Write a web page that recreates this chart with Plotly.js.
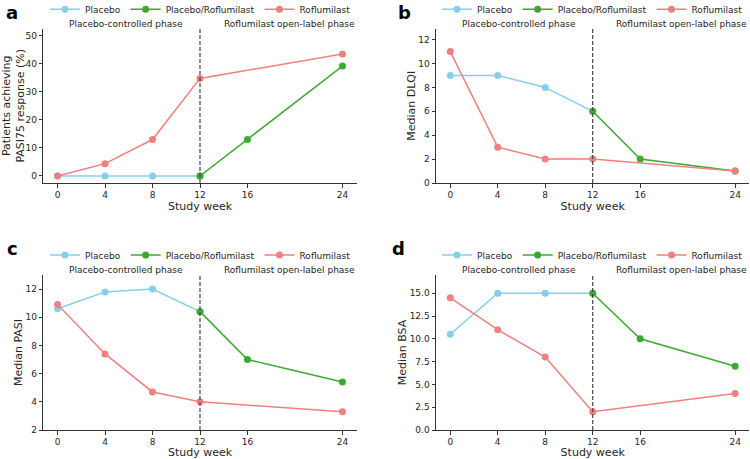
<!DOCTYPE html>
<html>
<head>
<meta charset="utf-8">
<script src="https://cdn.plot.ly/plotly-3.0.1.min.js"></script>
<style>html,body{margin:0;padding:0;background:#fff;}#chart{width:750px;height:459px;}</style>
</head>
<body>
<div id="chart"></div>
<script>
// ---- data ----
const weeksPlacebo = [0, 4, 8, 12];
const weeksSwitch = [12, 16, 24];
const weeksRoflumilast = [0, 4, 8, 12, 24];
const xTickVals = [0, 4, 8, 12, 16, 24];
const seriesNames = ['Placebo', 'Placebo/Roflumilast', 'Roflumilast'];

// a: PASI75 response (%)
const pasi75Placebo = [0, 0, 0, 0];
const pasi75Switch = [0, 13.0, 39.2];
const pasi75Roflumilast = [0, 4.4, 13.0, 34.8, 43.5];
// b: Median DLQI
const dlqiPlacebo = [9, 9, 8, 6];
const dlqiSwitch = [6, 2, 1];
const dlqiRoflumilast = [11, 3, 2, 2, 1];
// c: Median PASI
const pasiPlacebo = [10.6, 11.8, 12.0, 10.4];
const pasiSwitch = [10.4, 7.0, 5.4];
const pasiRoflumilast = [10.9, 7.4, 4.7, 4.0, 3.3];
// d: Median BSA
const bsaPlacebo = [10.5, 15, 15, 15];
const bsaSwitch = [15, 10, 7];
const bsaRoflumilast = [14.5, 11, 8, 2, 4];

const panelLetters = ['a', 'b', 'c', 'd'];
const yTitles = ['Patients achieving<br>PASI75 response (%)', 'Median DLQI', 'Median PASI', 'Median BSA'];
const yTickSets = [[0, 10, 20, 30, 40, 50], [0, 2, 4, 6, 8, 10, 12], [2, 4, 6, 8, 10, 12], [0, 2.5, 5, 7.5, 10, 12.5, 15]];
const phaseLabels = ['Placebo-controlled phase', 'Roflumilast open-label phase'];
const xTitle = 'Study week';
const switchWeek = 12;

// ---- styling ----
const W = 750, H = 459;
const colors = ['#87ceeb', '#3caa32', '#f08080'];
const textColor = '#262626';
const axisColor = '#333333';
const fontFamily = 'DejaVu Sans, Arial, sans-serif';

const panelData = [
  [pasi75Placebo, pasi75Switch, pasi75Roflumilast],
  [dlqiPlacebo, dlqiSwitch, dlqiRoflumilast],
  [pasiPlacebo, pasiSwitch, pasiRoflumilast],
  [bsaPlacebo, bsaSwitch, bsaRoflumilast]
];
const yRanges = [[-2.5, 52.6], [0, 12.93], [2, 13], [0, 17]];
const xDomains = [[43.3 / W, 356.7 / W], [436 / W, 749.4 / W], [43.3 / W, 356.7 / W], [436 / W, 749.4 / W]];
const yDomains = [[1 - 183 / H, 1 - 28.5 / H], [1 - 183 / H, 1 - 28.5 / H], [1 - 430 / H, 1 - 275 / H], [1 - 430 / H, 1 - 275 / H]];
const legendX = [45 / W, 437 / W, 45 / W, 437 / W];
const legendY = [1 - 9.3 / H, 1 - 9.3 / H, 1 - 255 / H, 1 - 255 / H];
const letterPos = [[4, 12], [396, 12], [5, 248], [390, 248]];
const yStandoff = [4, 0, 0, 0];

const traces = [];
const layout = {
  width: W, height: H,
  margin: {l: 0, r: 0, t: 0, b: 0, autoexpand: false},
  paper_bgcolor: '#fff', plot_bgcolor: '#fff',
  font: {family: fontFamily, size: 9, color: textColor},
  showlegend: true,
  annotations: [],
  shapes: []
};

const weekSets = [weeksPlacebo, weeksSwitch, weeksRoflumilast];

for (let p = 0; p < 4; p++) {
  const n = p === 0 ? '' : String(p + 1);
  const xa = 'x' + n, ya = 'y' + n;
  const legendId = 'legend' + n;
  for (let s = 0; s < 3; s++) {
    traces.push({
      type: 'scatter', mode: 'lines+markers',
      x: weekSets[s], y: panelData[p][s],
      name: seriesNames[s],
      xaxis: xa, yaxis: ya, legend: legendId,
      line: {color: colors[s], width: 1.5},
      marker: {color: colors[s], size: 7},
      cliponaxis: false,
      hoverinfo: 'x+y+name'
    });
  }
  layout['xaxis' + n] = {
    domain: xDomains[p], anchor: ya,
    range: [-1.2, 25.2],
    tickmode: 'array', tickvals: xTickVals, ticktext: xTickVals.map(String),
    showgrid: false, zeroline: false,
    showline: true, linecolor: axisColor, linewidth: 1,
    ticks: 'outside', ticklen: 3.5, tickwidth: 1, tickcolor: axisColor,
    tickfont: {size: 9, color: textColor},
    title: {text: xTitle, font: {size: 11, color: textColor}, standoff: 2},
    automargin: false
  };
  layout['yaxis' + n] = {
    domain: yDomains[p], anchor: xa,
    range: yRanges[p],
    tickmode: 'array', tickvals: yTickSets[p],
    ticktext: yTickSets[p].map(v => p === 3 ? v.toFixed(1) : String(v)),
    showgrid: false, zeroline: false,
    showline: true, linecolor: axisColor, linewidth: 1,
    ticks: 'outside', ticklen: 3.5, tickwidth: 1, tickcolor: axisColor,
    tickfont: {size: 9, color: textColor},
    title: {text: yTitles[p], font: {size: 11, color: textColor}, standoff: yStandoff[p]},
    automargin: false
  };
  layout[legendId] = {
    orientation: 'h',
    x: legendX[p], xanchor: 'left',
    y: legendY[p], yanchor: 'middle',
    xref: 'paper', yref: 'paper',
    bgcolor: 'rgba(0,0,0,0)',
    font: {size: 9, color: textColor},
    itemwidth: 30,
    tracegroupgap: 0
  };
  layout.shapes.push({
    type: 'line', xref: xa, yref: ya + ' domain',
    x0: switchWeek, x1: switchWeek, y0: 0, y1: 1,
    line: {color: '#444', width: 1.2, dash: '4px,2px'}
  });
  layout.annotations.push({
    xref: xa, yref: ya + ' domain', x: 5.8, y: 1, yanchor: 'middle', yshift: 5,
    text: phaseLabels[0], showarrow: false, font: {size: 9, color: textColor}
  });
  layout.annotations.push({
    xref: xa, yref: ya + ' domain', x: 19.5, y: 1, yanchor: 'middle', yshift: 5,
    text: phaseLabels[1], showarrow: false, font: {size: 9, color: textColor}
  });
  layout.annotations.push({
    xref: 'paper', yref: 'paper',
    x: letterPos[p][0] / W, y: 1 - letterPos[p][1] / H,
    xanchor: 'left', yanchor: 'middle',
    text: '<b>' + panelLetters[p] + '</b>', showarrow: false,
    font: {size: 18, color: '#000', family: fontFamily}
  });
}

Plotly.newPlot('chart', traces, layout, {displayModeBar: false, staticPlot: true});
</script>
</body>
</html>
